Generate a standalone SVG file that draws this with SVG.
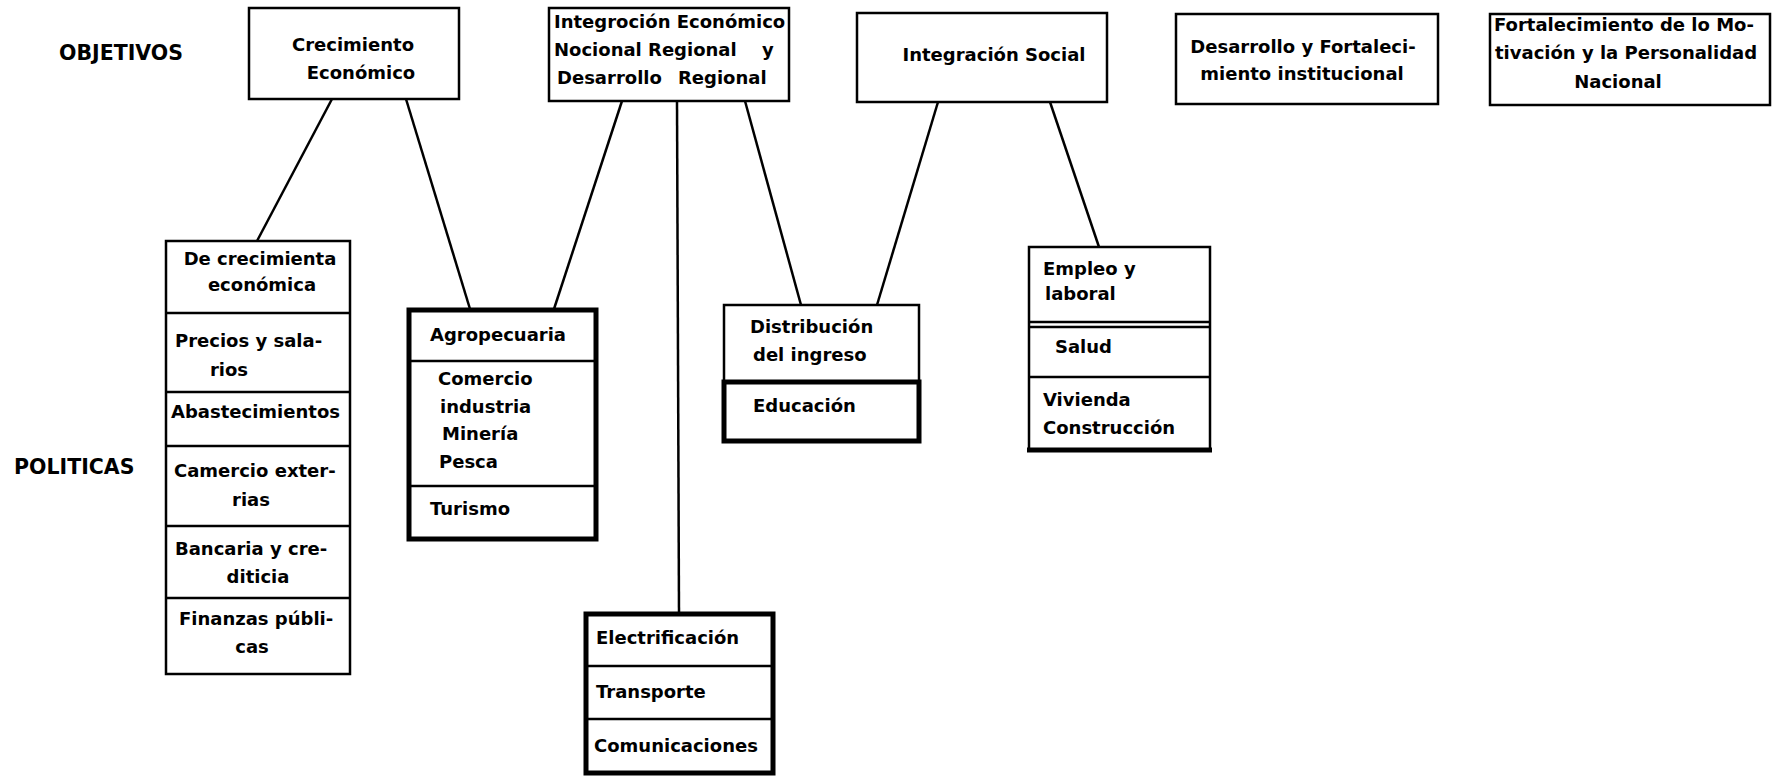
<svg xmlns="http://www.w3.org/2000/svg" width="1783" height="778" viewBox="0 0 1783 778">
<style>
.bx{fill:#fff;stroke:#000;stroke-width:2.5}
.tk{fill:none;stroke:#000;stroke-width:5}
.ln{stroke:#000;stroke-width:2.5;fill:none}
.t{font-family:"DejaVu Sans","Liberation Sans",sans-serif;font-weight:bold;font-size:18px;fill:#000}
.h{font-size:20.5px}
.c{text-anchor:middle}
</style>
<rect width="1783" height="778" fill="#fff"/>
<g id="connectors" class="ln">
<line x1="332" y1="99" x2="257" y2="241"/>
<line x1="406" y1="99" x2="470" y2="309"/>
<line x1="622" y1="101" x2="554" y2="309"/>
<line x1="677" y1="101" x2="679" y2="614"/>
<line x1="745" y1="101" x2="801" y2="305"/>
<line x1="938" y1="102" x2="877" y2="305"/>
<line x1="1050" y1="102" x2="1099" y2="247"/>
</g>
<text class="t h" x="59" y="60">OBJETIVOS</text>
<text class="t h" x="14" y="474">POLITICAS</text>
<g id="obj-crecimiento">
<rect class="bx" x="249" y="8" width="210" height="91"/>
<text class="t c" x="353" y="51">Crecimiento</text>
<text class="t c" x="361" y="79">Económico</text>
</g>
<g id="obj-integracion-economica">
<rect class="bx" x="549" y="8" width="240" height="93"/>
<text class="t" x="554" y="28">Integroción Económico</text>
<text class="t" x="554" y="56">Nocional Regional <tspan x="762">y</tspan></text>
<text class="t" x="557" y="84">Desarrollo <tspan x="678">Regional</tspan></text>
</g>
<g id="obj-integracion-social">
<rect class="bx" x="857" y="13" width="250" height="89"/>
<text class="t c" x="994" y="61">Integración Social</text>
</g>
<g id="obj-desarrollo">
<rect class="bx" x="1176" y="14" width="262" height="90"/>
<text class="t c" x="1303" y="53">Desarrollo y Fortaleci-</text>
<text class="t c" x="1302" y="80">miento institucional</text>
</g>
<g id="obj-fortalecimiento">
<rect class="bx" x="1490" y="14" width="280" height="91"/>
<text class="t" x="1494" y="31">Fortalecimiento de lo Mo-</text>
<text class="t" x="1495" y="59">tivación y la Personalidad</text>
<text class="t c" x="1618" y="88">Nacional</text>
</g>
<g id="pol-crecimiento">
<rect class="bx" x="166" y="241" width="184" height="433"/>
<line class="ln" x1="166" y1="313" x2="350" y2="313"/>
<line class="ln" x1="166" y1="392" x2="350" y2="392"/>
<line class="ln" x1="166" y1="446" x2="350" y2="446"/>
<line class="ln" x1="166" y1="526" x2="350" y2="526"/>
<line class="ln" x1="166" y1="598" x2="350" y2="598"/>
<text class="t c" x="260" y="265">De crecimienta</text>
<text class="t c" x="262" y="291">económica</text>
<text class="t" x="175" y="347">Precios y sala-</text>
<text class="t c" x="229" y="376">rios</text>
<text class="t" x="171" y="418">Abastecimientos</text>
<text class="t" x="174" y="477">Camercio exter-</text>
<text class="t c" x="251" y="506">rias</text>
<text class="t" x="175" y="555">Bancaria y cre-</text>
<text class="t c" x="258" y="583">diticia</text>
<text class="t" x="179" y="625">Finanzas públi-</text>
<text class="t c" x="252" y="653">cas</text>
</g>
<g id="pol-agropecuaria">
<rect class="bx" x="409" y="310" width="187" height="229"/>
<rect class="tk" x="409" y="310" width="187" height="229"/>
<line class="ln" x1="409" y1="361" x2="596" y2="361"/>
<line class="ln" x1="409" y1="486" x2="596" y2="486"/>
<text class="t" x="430" y="341">Agropecuaria</text>
<text class="t" x="438" y="385">Comercio</text>
<text class="t" x="440" y="413">industria</text>
<text class="t" x="442" y="440">Minería</text>
<text class="t" x="439" y="468">Pesca</text>
<text class="t" x="430" y="515">Turismo</text>
</g>
<g id="pol-electrificacion">
<rect class="bx" x="586" y="614" width="187" height="159"/>
<rect class="tk" x="586" y="614" width="187" height="159"/>
<line class="ln" x1="586" y1="666" x2="773" y2="666"/>
<line class="ln" x1="586" y1="719" x2="773" y2="719"/>
<text class="t" x="596" y="644">Electrificación</text>
<text class="t" x="596" y="698">Transporte</text>
<text class="t" x="594" y="752">Comunicaciones</text>
</g>
<g id="pol-distribucion">
<rect class="bx" x="724" y="305" width="195" height="136"/>
<path class="tk" d="M724,382 H919 V441 H724 Z"/>
<text class="t" x="750" y="333">Distribución</text>
<text class="t" x="753" y="361">del ingreso</text>
<text class="t" x="753" y="412">Educación</text>
</g>
<g id="pol-empleo">
<rect class="bx" x="1029" y="247" width="181" height="203"/>
<line class="ln" x1="1029" y1="322" x2="1210" y2="322" stroke-width="3"/>
<line class="ln" x1="1029" y1="327" x2="1210" y2="327"/>
<line class="ln" x1="1029" y1="377" x2="1210" y2="377"/>
<line class="tk" x1="1027" y1="450" x2="1212" y2="450"/>
<text class="t" x="1043" y="275">Empleo y</text>
<text class="t" x="1045" y="300">laboral</text>
<text class="t" x="1055" y="353">Salud</text>
<text class="t" x="1043" y="406">Vivienda</text>
<text class="t" x="1043" y="434">Construcción</text>
</g>
</svg>
